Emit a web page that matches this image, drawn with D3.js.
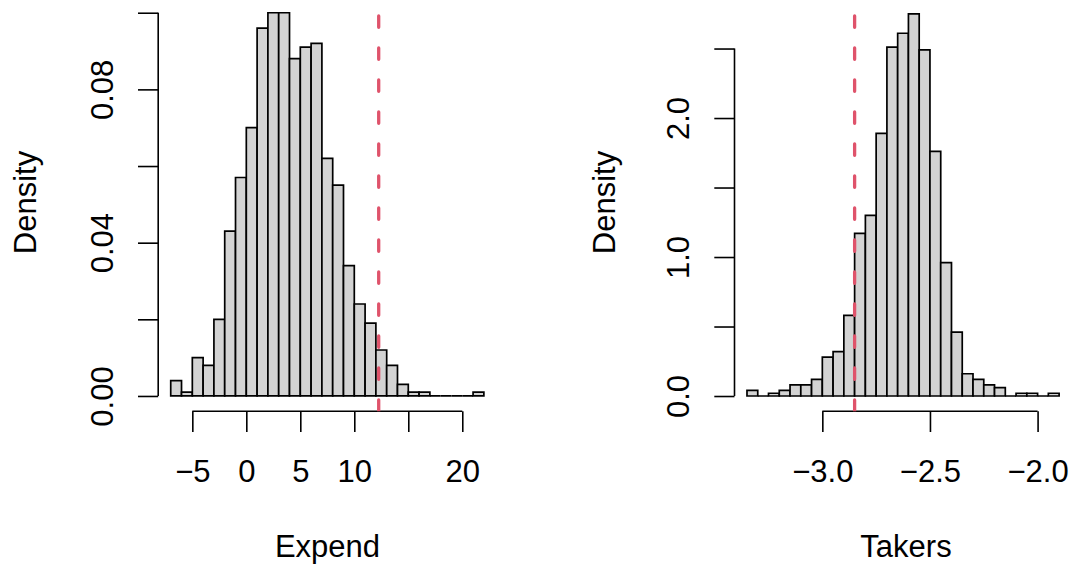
<!DOCTYPE html>
<html>
<head>
<meta charset="utf-8">
<script src="https://cdn.jsdelivr.net/npm/d3@7"></script>
<style>
  html, body { margin: 0; padding: 0; background: #fff; }
  svg { display: block; }
  text { font-family: "Liberation Sans", Arial, Helvetica, sans-serif; fill: #000; }
</style>
</head>
<body>
<svg id="chart" width="1073" height="564"></svg>
<script>
// ---------- data ----------
const expendBreaks = [-7,-6,-5,-4,-3,-2,-1,0,1,2,3,4,5,6,7,8,9,10,11,12,13,14,15,16,17,18,19,20,21,22];
const expendDensity = [0.004,0.001,0.010,0.008,0.020,0.043,0.057,0.070,0.096,0.100,0.100,0.088,0.091,0.092,
                       0.062,0.055,0.034,0.024,0.019,0.012,0.008,0.003,0.001,0.001,0,0,0,0,0.001];
const expendRef = 12.26;
const expendXTicks = [-5,0,5,10,15,20];
const expendXLabels = ["\u22125","0","5","10","","20"];
const expendYTicks = [0,0.02,0.04,0.06,0.08,0.10];
const expendYLabels = ["0.00","","0.04","","0.08",""];

const takersBreaks = [-3.35,-3.30,-3.25,-3.20,-3.15,-3.10,-3.05,-3.00,-2.95,-2.90,-2.85,-2.80,-2.75,-2.70,-2.65,
                      -2.60,-2.55,-2.50,-2.45,-2.40,-2.35,-2.30,-2.25,-2.20,-2.15,-2.10,-2.05,-2.00,-1.95,-1.90];
const takersDensity = [0.04,0,0.02,0.04,0.08,0.08,0.12,0.28,0.32,0.58,1.17,1.30,1.89,2.51,2.61,2.75,2.49,1.76,
                       0.96,0.46,0.16,0.12,0.08,0.06,0,0.02,0.02,0,0.02];
const takersRef = -2.85;
const takersXTicks = [-3.0,-2.5,-2.0];
const takersXLabels = ["\u22123.0","\u22122.5","\u22122.0"];
const takersYTicks = [0,0.5,1.0,1.5,2.0,2.5];
const takersYLabels = ["0.0","","1.0","","2.0",""];

// ---------- drawing ----------
const svg = d3.select("#chart");
const FS = 31;

function panel(opt) {
  const x = d3.scaleLinear().domain(opt.xDomain).range(opt.xRange);
  const y = d3.scaleLinear().domain(opt.yDomain).range([411.3, opt.yTop]);
  const g = svg.append("g");
  const clipId = "clip" + opt.id;
  svg.append("clipPath").attr("id", clipId).append("rect")
    .attr("x", opt.xRange[0]).attr("y", opt.yTop)
    .attr("width", opt.xRange[1] - opt.xRange[0]).attr("height", 411.3 - opt.yTop);

  // bars
  const bins = opt.density.map((d, i) => ({x0: opt.breaks[i], x1: opt.breaks[i + 1], v: d}));
  g.selectAll("path.bar").data(bins).enter().append("path")
    .attr("class", "bar")
    .attr("d", b => `M${x(b.x0)},${y(0)}H${x(b.x1)}V${y(b.v)}H${x(b.x0)}Z`)
    .attr("fill", "#D3D3D3").attr("stroke", "#000").attr("stroke-width", 1.7)
    .attr("stroke-linejoin", "miter");

  // x axis
  const xa = g.append("g").attr("transform", `translate(0,${y.range()[0]})`)
    .call(d3.axisBottom(x).tickValues(opt.xTicks)
      .tickFormat((d, i) => opt.xLabels[i]).tickSize(20.7).tickSizeOuter(0).tickPadding(28.0));
  xa.select(".domain").remove();
  xa.append("line").attr("x1", x(opt.xTicks[0])).attr("x2", x(opt.xTicks[opt.xTicks.length - 1]))
    .attr("y1", 0).attr("y2", 0).attr("stroke", "#000").attr("stroke-width", 1.6);
  xa.selectAll(".tick line").attr("stroke", "#000").attr("stroke-width", 1.6);
  xa.selectAll(".tick text").attr("font-size", FS).attr("font-family", null).attr("fill", "#000");

  // y axis
  const ya = g.append("g").attr("transform", `translate(${opt.xRange[0]},0)`)
    .call(d3.axisLeft(y).tickValues(opt.yTicks)
      .tickFormat((d, i) => opt.yLabels[i]).tickSize(20.2).tickSizeOuter(0));
  ya.select(".domain").remove();
  ya.append("line").attr("x1", 0).attr("x2", 0)
    .attr("y1", y(opt.yTicks[0])).attr("y2", y(opt.yTicks[opt.yTicks.length - 1]))
    .attr("stroke", "#000").attr("stroke-width", 1.6);
  ya.selectAll(".tick line").attr("stroke", "#000").attr("stroke-width", 1.6);
  ya.selectAll(".tick text").attr("font-size", FS).attr("font-family", null).attr("fill", "#000")
    .attr("x", null).attr("dy", null).attr("text-anchor", "middle")
    .attr("transform", "translate(-45.5,0) rotate(-90)");

  // reference line (drawn bottom to top, clipped to plot region)
  g.append("line").attr("clip-path", `url(#${clipId})`)
    .attr("x1", x(opt.ref)).attr("x2", x(opt.ref))
    .attr("y1", y.range()[0]).attr("y2", y.range()[1])
    .attr("stroke", "#DF536B").attr("stroke-width", 3.3)
    .attr("stroke-dasharray", "11.3,20.7").attr("stroke-linecap", "round");

  // titles
  g.append("text").attr("x", opt.titleX).attr("y", 556.7).attr("text-anchor", "middle")
    .attr("font-size", FS).text(opt.xTitle);
  g.append("text").attr("transform", `translate(${opt.yTitleX},202.5) rotate(-90)`)
    .attr("text-anchor", "middle").attr("font-size", FS).text("Density");
}

panel({
  id: "L", breaks: expendBreaks, density: expendDensity, ref: expendRef,
  xDomain: [-8.16, 23.16], xRange: [158.2, 496.4], yDomain: [-0.004, 0.104], yTop: -2.6,
  xTicks: expendXTicks, xLabels: expendXLabels, yTicks: expendYTicks, yLabels: expendYLabels,
  xTitle: "Expend", titleX: 327.5, yTitleX: 35.5
});
panel({
  id: "R", breaks: takersBreaks, density: takersDensity, ref: takersRef,
  xDomain: [-3.408, -1.842], xRange: [734.5, 1071.6], yDomain: [-0.11, 2.86], yTop: -1.5,
  xTicks: takersXTicks, xLabels: takersXLabels, yTicks: takersYTicks, yLabels: takersYLabels,
  xTitle: "Takers", titleX: 906, yTitleX: 614.5
});
</script>
</body>
</html>
